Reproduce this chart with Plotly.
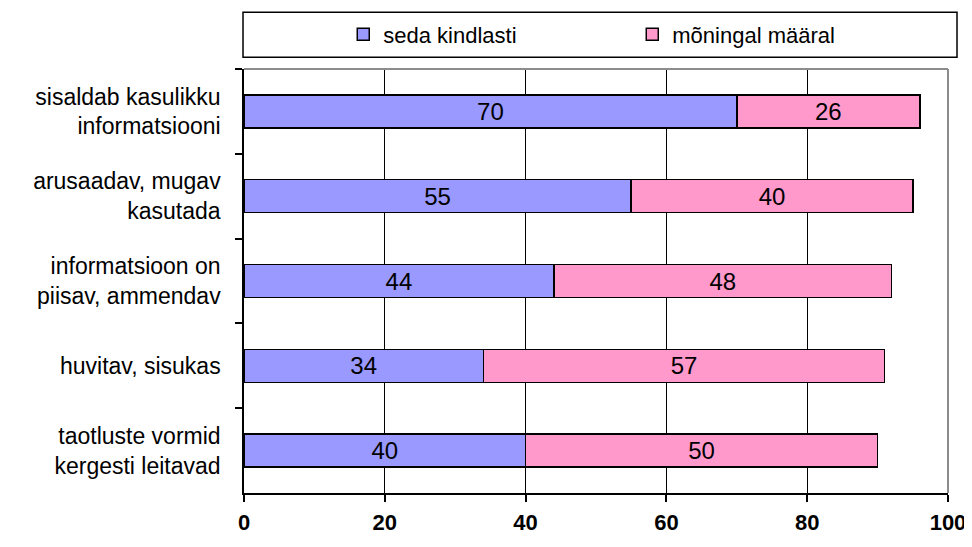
import plotly.graph_objects as go

categories = [
    "sisaldab kasulikku<br>informatsiooni",
    "arusaadav, mugav<br>kasutada",
    "informatsioon on<br>piisav, ammendav",
    "huvitav, sisukas",
    "taotluste vormid<br>kergesti leitavad",
]
seda_kindlasti = [70, 55, 44, 34, 40]
moningal_maaral = [26, 40, 48, 57, 50]
series_names = ["seda kindlasti", "mõningal määral"]
x_ticks = [0, 20, 40, 60, 80, 100]

FONT = "Liberation Sans, Arial, sans-serif"

fig = go.Figure()
for name, vals, color in [
    (series_names[0], seda_kindlasti, "#9999FF"),
    (series_names[1], moningal_maaral, "#FF99CC"),
]:
    fig.add_trace(go.Bar(
        y=categories, x=vals, name=name, orientation="h",
        marker=dict(color=color, line=dict(color="black", width=1.5)),
        texttemplate="%{x}", textposition="inside", insidetextanchor="middle",
        textangle=0,
        textfont=dict(family=FONT, size=24, color="black"),
    ))

# the page body has an 8px default margin, so the figure is 8px smaller
fig.update_layout(
    width=964, height=539,
    margin=dict(l=236, r=24, t=61, b=54, autoexpand=False),
    barmode="stack", bargap=0.61,
    plot_bgcolor="white", paper_bgcolor="white",
    font=dict(family=FONT, color="black"),
    showlegend=True,
    legend=dict(
        orientation="h", x=0.141, xanchor="left", y=1.0814, yanchor="middle",
        traceorder="normal",
        bgcolor="rgba(0,0,0,0)", font=dict(family=FONT, size=22, color="black"),
        entrywidth=244, entrywidthmode="pixels",
    ),
    xaxis=dict(
        range=[0, 100], tickvals=x_ticks, ticktext=[str(v) for v in x_ticks],
        showgrid=True, gridcolor="black", gridwidth=1,
        showline=True, linecolor="black", linewidth=1.5,
        ticks="outside", ticklen=7, tickcolor="black", tickwidth=1.5,
        tickfont=dict(family=FONT, size=22, color="black", weight="bold"),
        ticklabelstandoff=2, zeroline=False, fixedrange=True, automargin=False,
    ),
    yaxis=dict(
        autorange="reversed", showline=True, linecolor="black", linewidth=1.5,
        ticks="outside", ticklen=7, tickcolor="black", tickwidth=1.5,
        tickson="boundaries", showgrid=False,
        tickfont=dict(family=FONT, size=23, color="black"),
        ticklabelstandoff=17, automargin=False,
    ),
    shapes=[
        dict(type="line", xref="paper", yref="paper", x0=0, x1=1, y0=1, y1=1,
             line=dict(color="#8C8C8C", width=2)),
        dict(type="line", xref="paper", yref="paper", x0=1, x1=1, y0=0, y1=1,
             line=dict(color="#8C8C8C", width=2)),
        dict(type="rect", xref="paper", yref="paper", x0=-0.0014, x1=1.0128,
             y0=1.028, y1=1.134, line=dict(color="black", width=1.5)),
    ],
)

fig.write_html("out.html")
